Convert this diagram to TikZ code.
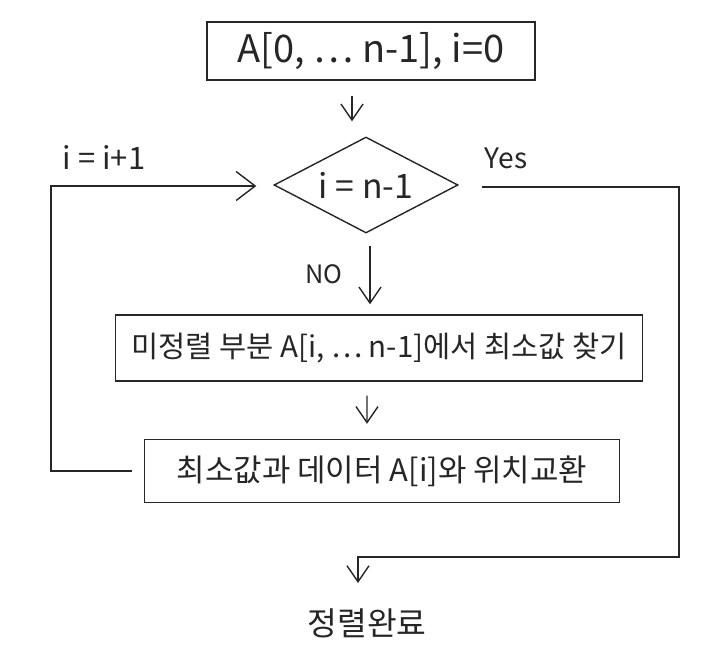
\documentclass[tikz,border=0pt]{standalone}
\usepackage{fontspec}
\setmainfont{Noto Sans CJK KR}
\usetikzlibrary{arrows.meta,positioning,shapes.geometric}

\begin{document}
\begin{tikzpicture}[>={Straight Barb[length=0.4cm,width=0.55cm]}, color=black!85, line width=1pt,
  box/.style={draw, inner sep=0pt, font=\fontsize{21}{25}\selectfont},
  cond/.style={diamond, draw, inner sep=0pt, aspect=1.9, font=\fontsize{24}{28}\selectfont},
  lbl/.style={font=\fontsize{19}{23}\selectfont},
  bigtip/.style={-{Straight Barb[length=0.475cm,width=0.725cm]}}]
  \useasboundingbox (0,0) rectangle (18.1,-16.475);
  \node[box, minimum width=8.2cm, minimum height=1.45cm, font=\fontsize{27}{31}\selectfont] (init) at (9.275,-1.275) {A[0, … n-1], i=0};
  \node[cond, minimum width=4.6cm, minimum height=2.4cm] (test) at (9.15,-4.625) {i = n-1};
  \node[box, minimum width=13.175cm, minimum height=1.65cm] (find) at (9.475,-8.7) {미정렬 부분 A[i, … n-1]에서 최소값 찾기};
  \node[box, minimum width=11.875cm, minimum height=1.575cm, font=\fontsize{22}{26}\selectfont] (swap) at (9.55,-11.775) {최소값과 데이터 A[i]와 위치교환};
  \node[lbl, font=\fontsize{23}{27}\selectfont] (done) at (9.175,-15.575) {정렬완료};
  \coordinate (backL) at (1.275,-4.65);
  \coordinate (exitR) at (16.975,-13.925);
  \coordinate (exitB) at (8.95,-13.925);
  % main flow
  \draw[->, shorten <=0.375cm, shorten >=0.375cm] ([xshift=-0.475cm]init.south) -- ([xshift=-0.35cm]test.north);
  \draw[->, shorten <=0.3cm, shorten >=0.25cm] ([xshift=0.1cm]test.south) -- ([xshift=-0.225cm]find.north)
    node[lbl, midway, left=0.55cm, font=\fontsize{18}{22}\selectfont] (no) {NO};
  \draw[->, shorten <=0.35cm, shorten >=0.375cm] ([xshift=-0.3cm]find.south) -- ([xshift=-0.375cm]swap.north);
  % loop back: i = i+1
  \draw[bigtip] ([xshift=-0.3cm]swap.west) -| (backL) -- ([xshift=-0.425cm,yshift=-0.025cm]test.west);
  \node[lbl, font=\fontsize{22}{26}\selectfont] (inc) at (2.6,-3.95) {i = i+1};
  % exit: Yes
  \draw[->] ([xshift=0.575cm,yshift=-0.05cm]test.east) -| (exitR) -- (exitB) -- ++(0,-0.65);
  \node[lbl, font=\fontsize{20}{24}\selectfont] (yes) at (12.65,-3.95) {Yes};
\end{tikzpicture}
\end{document}
